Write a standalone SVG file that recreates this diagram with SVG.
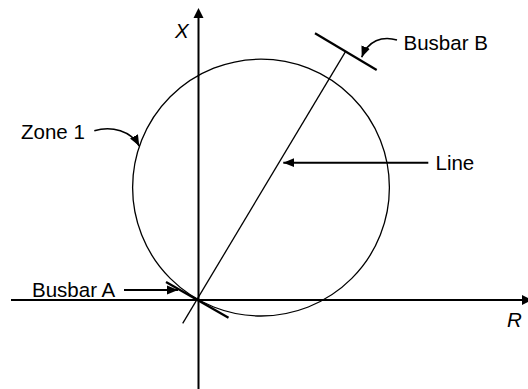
<svg xmlns="http://www.w3.org/2000/svg" width="528" height="389" viewBox="0 0 528 389">
  <style>
    text { font-family: "Liberation Sans", Arial, sans-serif; font-size: 20.5px; fill: #000; }
    .it { font-style: italic; }
    .axis { stroke: #000; stroke-width: 2; fill: none; }
    .thin { stroke: #000; stroke-width: 1.3; fill: none; }
    .tick { stroke: #000; stroke-width: 2.2; fill: none; }
    .arr { stroke: #000; stroke-width: 2; fill: none; }
    .curve { stroke: #000; stroke-width: 1.6; fill: none; }
  </style>
  <defs>
    <marker id="head" markerUnits="userSpaceOnUse" markerWidth="12" markerHeight="10" refX="11" refY="5" orient="auto">
      <path d="M0,0.5 L11,5 L0,9.5 Z" fill="#000"/>
    </marker>
  </defs>
  <rect width="528" height="389" fill="#fff"/>

  <g id="axes">
    <line class="axis" x1="198.5" y1="389" x2="198.5" y2="16"/>
    <polygon points="198.5,8 193.5,18 203.5,18" fill="#000"/>
    <line class="axis" x1="11" y1="300" x2="524" y2="300"/>
    <polygon points="532,300 522,295 522,305" fill="#000"/>
    <text class="it" x="175" y="38">X</text>
    <text class="it" x="507" y="327">R</text>
  </g>

  <g id="zone1">
    <circle class="thin" cx="261" cy="187.6" r="128.4"/>
  </g>

  <g id="line">
    <line class="thin" x1="182.7" y1="323.3" x2="345.5" y2="51.7"/>
  </g>

  <g id="busbarA">
    <line class="tick" x1="166" y1="282" x2="228.5" y2="317.7"/>
  </g>

  <g id="busbarB">
    <line class="tick" x1="315" y1="33.3" x2="376.7" y2="70"/>
  </g>

  <g id="labels">
    <text x="403.5" y="50">Busbar B</text>
    <text x="21" y="138.5">Zone 1</text>
    <text x="435.5" y="170">Line</text>
    <text x="32" y="296.5">Busbar A</text>
  </g>

  <g id="connectors">
    <path class="curve" d="M397,40 C382,35.5 368,41 361.7,57.3" marker-end="url(#head)"/>
    <path class="curve" d="M94.3,130.7 C112,125.5 131,131 139.3,146" marker-end="url(#head)"/>
    <line class="arr" x1="428.3" y1="162.7" x2="283.3" y2="162.7" marker-end="url(#head)"/>
    <line class="arr" x1="124" y1="290" x2="178" y2="290" marker-end="url(#head)"/>
  </g>
</svg>
